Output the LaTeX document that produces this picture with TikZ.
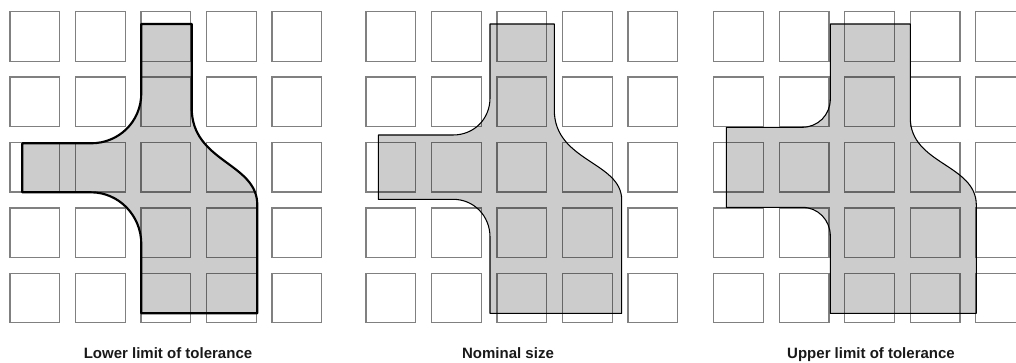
\documentclass[tikz,border=0pt]{standalone}
\usepackage{fontspec}
\setmainfont{Liberation Sans}
\definecolor{gridgray}{gray}{0.5}
\definecolor{labelink}{gray}{0.1}
\tikzset{
  cell/.style={draw=gridgray, line width=1pt},
  part/.style={fill=black, fill opacity=0.2, draw=black, draw opacity=1, line join=round},
  thinpart/.style={part, line width=0.8pt},
  thickpart/.style={part, line width=1.6pt},
  caption/.style={anchor=base, inner sep=0pt, text=labelink,
    font=\fontsize{11.25}{13}\selectfont\bfseries}
}
\newcommand{\cellgrid}{%
  \foreach \i in {0,...,4}{
    \foreach \j in {0,...,4}{
      \draw[cell] (\i*65.5,\j*65.4) rectangle +(49.7,49.5);
    }
  }%
}
\begin{document}
\begin{tikzpicture}[x=0.75pt,y=-0.75pt]
\path[use as bounding box] (0,0) rectangle (1016,363);
\clip (0,0) rectangle (1016,363);

% grids
\begin{scope}[shift={(10,11.7)}]\cellgrid\end{scope}
\begin{scope}[shift={(366,11.7)}]\cellgrid\end{scope}
\begin{scope}[shift={(713.7,11.7)}]\cellgrid\end{scope}

% lower limit
\draw[thickpart] (141.3,24) -- (191.7,24) -- (191.7,108)
  .. controls (191.7,162.5) and (257.3,162.5) .. (257.3,205)
  -- (257.3,313.3) -- (141.3,313.3) -- (141.3,244)
  .. controls (141.3,215.5) and (118.8,192.3) .. (91,192.3)
  -- (22.3,192.3) -- (22.3,143.3) -- (91,143.3)
  .. controls (118.8,143.3) and (141.3,121.7) .. (141.3,93) -- cycle;

% nominal
\draw[thinpart] (490,24) -- (554.3,24) -- (554.3,110)
  .. controls (554.3,161.7) and (621.7,161.7) .. (621.7,200)
  -- (621.7,313.3) -- (490,313.3) -- (490,237)
  .. controls (490,216) and (474,199.3) .. (453,199.3)
  -- (378.3,199.3) -- (378.3,135) -- (453,135)
  .. controls (474,135) and (490,119) .. (490,98) -- cycle;

% upper limit
\draw[thinpart] (830.3,24) -- (910.3,24) -- (910.3,118)
  .. controls (910.3,164.3) and (976.3,164.3) .. (976.3,205)
  -- (976.3,313.3) -- (830.3,313.3) -- (830.3,236)
  .. controls (830.3,220) and (818,207.3) .. (802,207.3)
  -- (726.3,207.3) -- (726.3,127.3) -- (802,127.3)
  .. controls (818,127.3) and (830.3,115) .. (830.3,99) -- cycle;

\node[caption] (lowerlbl) at (168,358.5) {Lower limit of tolerance};
\node[caption] (nomlbl) at (508,358.5) {Nominal size};
\node[caption] (upperlbl) at (871,358.5) {Upper limit of tolerance};
\end{tikzpicture}
\end{document}
